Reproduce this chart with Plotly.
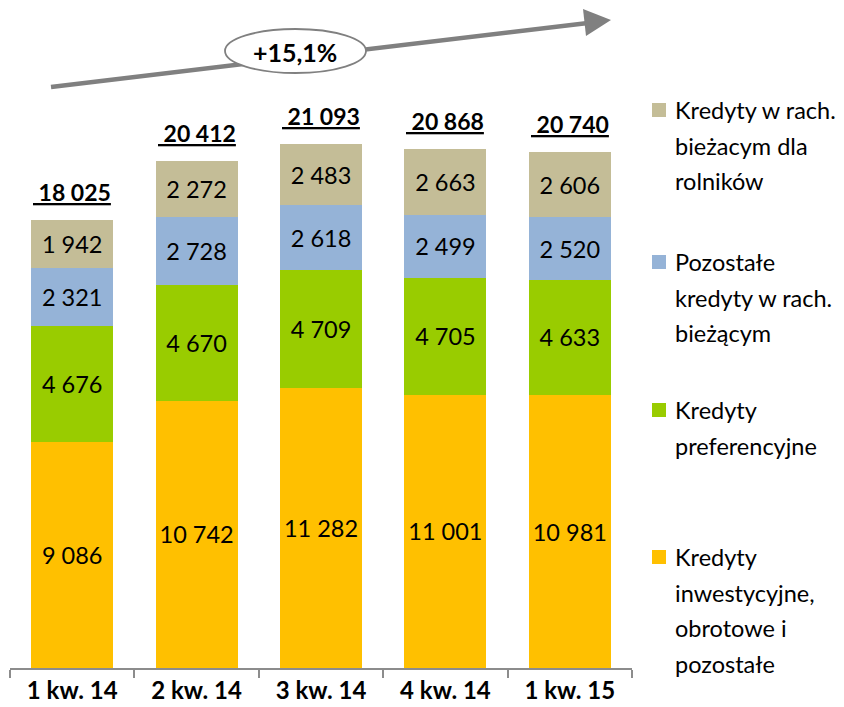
import plotly.graph_objects as go

categories = ["1 kw. 14", "2 kw. 14", "3 kw. 14", "4 kw. 14", "1 kw. 15"]
inwestycyjne = [9086, 10742, 11282, 11001, 10981]
preferencyjne = [4676, 4670, 4709, 4705, 4633]
pozostale_biezace = [2321, 2728, 2618, 2499, 2520]
rolnicy = [1942, 2272, 2483, 2663, 2606]
totals = [18025, 20412, 21093, 20868, 20740]
growth_label = "+15,1%"

series = [
    (inwestycyjne, "#FFC000", ["Kredyty", "inwestycyjne,", "obrotowe i", "pozostałe"]),
    (preferencyjne, "#99CC00", ["Kredyty", "preferencyjne"]),
    (pozostale_biezace, "#95B3D7", ["Pozostałe", "kredyty w rach.", "bieżącym"]),
    (rolnicy, "#C4BD97", ["Kredyty w rach.", "bieżacym dla", "rolników"]),
]

FONT = "Lato"
# page body has an 8px margin, so the figure is 8px smaller than the window
OFF = 8
W, H = 844 - OFF, 707 - OFF
PLOT_LEFT, PLOT_RIGHT, PLOT_TOP, PLOT_BOTTOM = 10, 632, 8, 668  # in window pixels
L, R = PLOT_LEFT - OFF, W - (PLOT_RIGHT - OFF)
T, B = PLOT_TOP - OFF, H - (PLOT_BOTTOM - OFF)
PW, PH = PLOT_RIGHT - PLOT_LEFT, PLOT_BOTTOM - PLOT_TOP
Y_MAX = PH / 0.02486


def px_x(p):
    return (p - PLOT_LEFT) / PW


def px_y(p):
    return (PLOT_BOTTOM - p) / PH


fig = go.Figure()
for values, color, label in series:
    fig.add_trace(go.Bar(
        x=categories, y=values, name=" ".join(label),
        marker=dict(color=color, line=dict(width=0)),
        texttemplate="%{y:,}", textposition="inside",
        insidetextanchor="middle", constraintext="none",
        textfont=dict(family=FONT, size=23.5, color="black"),
        showlegend=False,
    ))

annotations = []
for cat, tot in zip(categories, totals):
    annotations.append(dict(
        x=cat, y=tot, xref="x", yref="y", yanchor="bottom", yshift=12,
        text=f"<b><span style='text-decoration:underline'>&nbsp;{tot:,}</span></b>".replace(",", " "),
        showarrow=False, font=dict(family=FONT, size=23, color="black"),
    ))

# growth arrow with ellipse
shapes = [
    dict(type="line", xref="paper", yref="paper",
         x0=px_x(51), y0=px_y(87), x1=px_x(588), y1=px_y(23),
         line=dict(color="#808080", width=4.5)),
    dict(type="path", xref="paper", yref="paper",
         path=f"M {px_x(583)} {px_y(9)} L {px_x(611)} {px_y(20)} L {px_x(586)} {px_y(36)} Z",
         fillcolor="#808080", line=dict(width=0)),
    dict(type="circle", xref="paper", yref="paper",
         x0=px_x(225), x1=px_x(366), y0=px_y(29), y1=px_y(73),
         fillcolor="white", line=dict(color="#808080", width=1.8)),
]
annotations.append(dict(
    x=px_x(295), y=px_y(52), xref="paper", yref="paper",
    xanchor="center", yanchor="middle",
    text=f"<b>{growth_label}</b>", showarrow=False,
    font=dict(family=FONT, size=25, color="black"),
))

# legend drawn at the right
legend_tops = [110, 262, 410, 557]
for (values, color, label), top in zip(reversed(series), legend_tops):
    shapes.append(dict(type="rect", xref="paper", yref="paper",
                       x0=px_x(652), x1=px_x(666), y0=px_y(top - 7), y1=px_y(top + 7),
                       fillcolor=color, line=dict(width=0)))
    for i, line in enumerate(label):
        annotations.append(dict(
            x=px_x(673), y=px_y(top + i * 35.5), xref="paper", yref="paper",
            xanchor="left", yanchor="middle", text=line, showarrow=False,
            font=dict(family=FONT, size=23.5, color="black"),
        ))

fig.update_layout(
    width=W, height=H,
    margin=dict(l=L, r=R, t=T, b=B),
    barmode="stack", bargap=0.34,
    separators=", ",
    plot_bgcolor="white", paper_bgcolor="white",
    font=dict(family=FONT),
    shapes=shapes, annotations=annotations,
    xaxis=dict(
        showline=True, linecolor="#8c8c8c", linewidth=1.5,
        ticks="outside", tickson="boundaries", ticklen=8, tickcolor="#8c8c8c", tickwidth=1.5,
        tickfont=dict(family=FONT, size=24, color="black"),
        tickprefix="<b>", ticksuffix="</b>", automargin=False,
    ),
    yaxis=dict(visible=False, range=[0, Y_MAX], fixedrange=True),
)

fig.write_html("out.html")
